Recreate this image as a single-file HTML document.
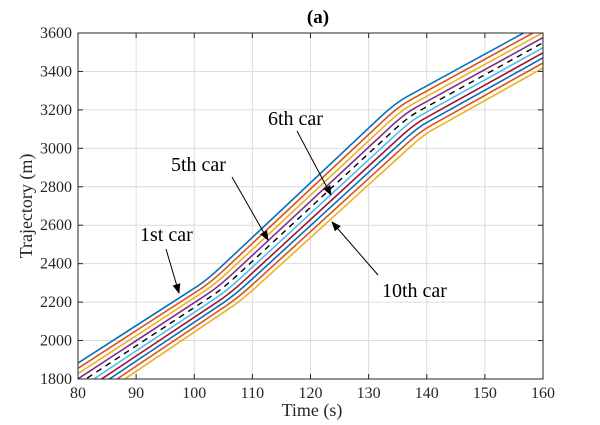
<!DOCTYPE html>
<html><head><meta charset="utf-8"><style>
body{margin:0;background:#fff;}
svg{display:block;font-family:"Liberation Serif",serif;}
</style></head><body>
<svg id="s" width="600" height="425" viewBox="0 0 600 425">
<rect width="600" height="425" fill="#fff"/>
<g id="grid" stroke="#dcdcdc" stroke-width="1"></g>
<g id="lines" fill="none" stroke-width="1.6" stroke-linejoin="round"></g>
<rect x="78" y="33" width="465" height="346" fill="none" stroke="#262626" stroke-width="1"/>
<g id="ticks" stroke="#262626" stroke-width="1"></g>
<g id="labels" font-size="16" fill="#262626"></g>
<text x="318" y="23" font-size="19" font-weight="bold" text-anchor="middle">(a)</text>
<text x="312" y="416" font-size="18" text-anchor="middle" fill="#262626">Time (s)</text>
<text transform="translate(32,206) rotate(-90)" font-size="18" text-anchor="middle" fill="#262626">Trajectory (m)</text>
<defs><marker id="ah" markerWidth="10" markerHeight="8" refX="9" refY="4" orient="auto" markerUnits="userSpaceOnUse"><path d="M0,0 L10,4 L0,8 Z" fill="#000"/></marker></defs>
<g font-size="20" fill="#000">
<text x="140" y="241">1st car</text>
<text x="171" y="171">5th car</text>
<text x="268" y="125">6th car</text>
<text x="382" y="297">10th car</text>
</g>
<g stroke="#000" stroke-width="1" marker-end="url(#ah)">
<line x1="166" y1="249" x2="179" y2="293"/>
<line x1="232" y1="177" x2="268" y2="240"/>
<line x1="297" y1="131" x2="331" y2="195"/>
<line x1="378" y1="275" x2="332" y2="222"/>
</g>
</svg>
<script>
var NS="http://www.w3.org/2000/svg";
function X(t){return 78+(t-80)*465/80;}
function Y(v){return 379-(v-1800)*346/1800;}
function el(p,n,a){var e=document.createElementNS(NS,n);for(var k in a)e.setAttribute(k,a[k]);p.appendChild(e);return e;}
var g=document.getElementById('grid'),tk=document.getElementById('ticks'),lb=document.getElementById('labels');
for(var t=80;t<=160;t+=10){var x=X(t);if(t>80&&t<160)el(g,'line',{x1:x,y1:33,x2:x,y2:379});
el(tk,'line',{x1:x,y1:379,x2:x,y2:374});el(tk,'line',{x1:x,y1:33,x2:x,y2:38});
var tx=el(lb,'text',{x:x,y:398,'text-anchor':'middle'});tx.textContent=t;}
for(var v=1800;v<=3600;v+=200){var y=Y(v);if(v>1800&&v<3600)el(g,'line',{x1:78,y1:y,x2:543,y2:y});
el(tk,'line',{x1:78,y1:y,x2:83,y2:y});el(tk,'line',{x1:543,y1:y,x2:538,y2:y});
var tx=el(lb,'text',{x:72,y:y+5,'text-anchor':'end'});tx.textContent=v;}
var A=[[80,1883],[102.2,2315],[134.6,3236],[160,3655]];
var B=[[80,1636],[108.2,2211],[139.4,3069],[160,3418]];
var cols=['#0072BD','#D95319','#EDB120','#7E2F8E','#000','#4DBEEE','#A2142F','#0072BD','#D95319','#EDB120'];
var L=document.getElementById('lines');
var defs=el(document.getElementById('s'),'clipPath',{id:'cp'});el(defs,'rect',{x:78,y:33,width:465,height:346});
L.setAttribute('clip-path','url(#cp)');
function lerp(p,q,u){return [p[0]+(q[0]-p[0])*u,p[1]+(q[1]-p[1])*u];}
for(var i=0;i<10;i++){var f=i/9;
var P=A.map(function(a,j){return lerp(a,B[j],f);});
var d='M'+X(P[0][0])+','+Y(P[0][1]);
for(var j=1;j<3;j++){var a=lerp(P[j],P[j-1],0.08),b=lerp(P[j],P[j+1],0.08);
d+=' L'+X(a[0])+','+Y(a[1])+' Q'+X(P[j][0])+','+Y(P[j][1])+' '+X(b[0])+','+Y(b[1]);}
d+=' L'+X(P[3][0])+','+Y(P[3][1]);
var at={d:d,stroke:cols[i]};if(i==4){at['stroke-dasharray']='6,5';at['stroke-width']=1.4;}
el(L,'path',at);}
</script>
</body></html>
